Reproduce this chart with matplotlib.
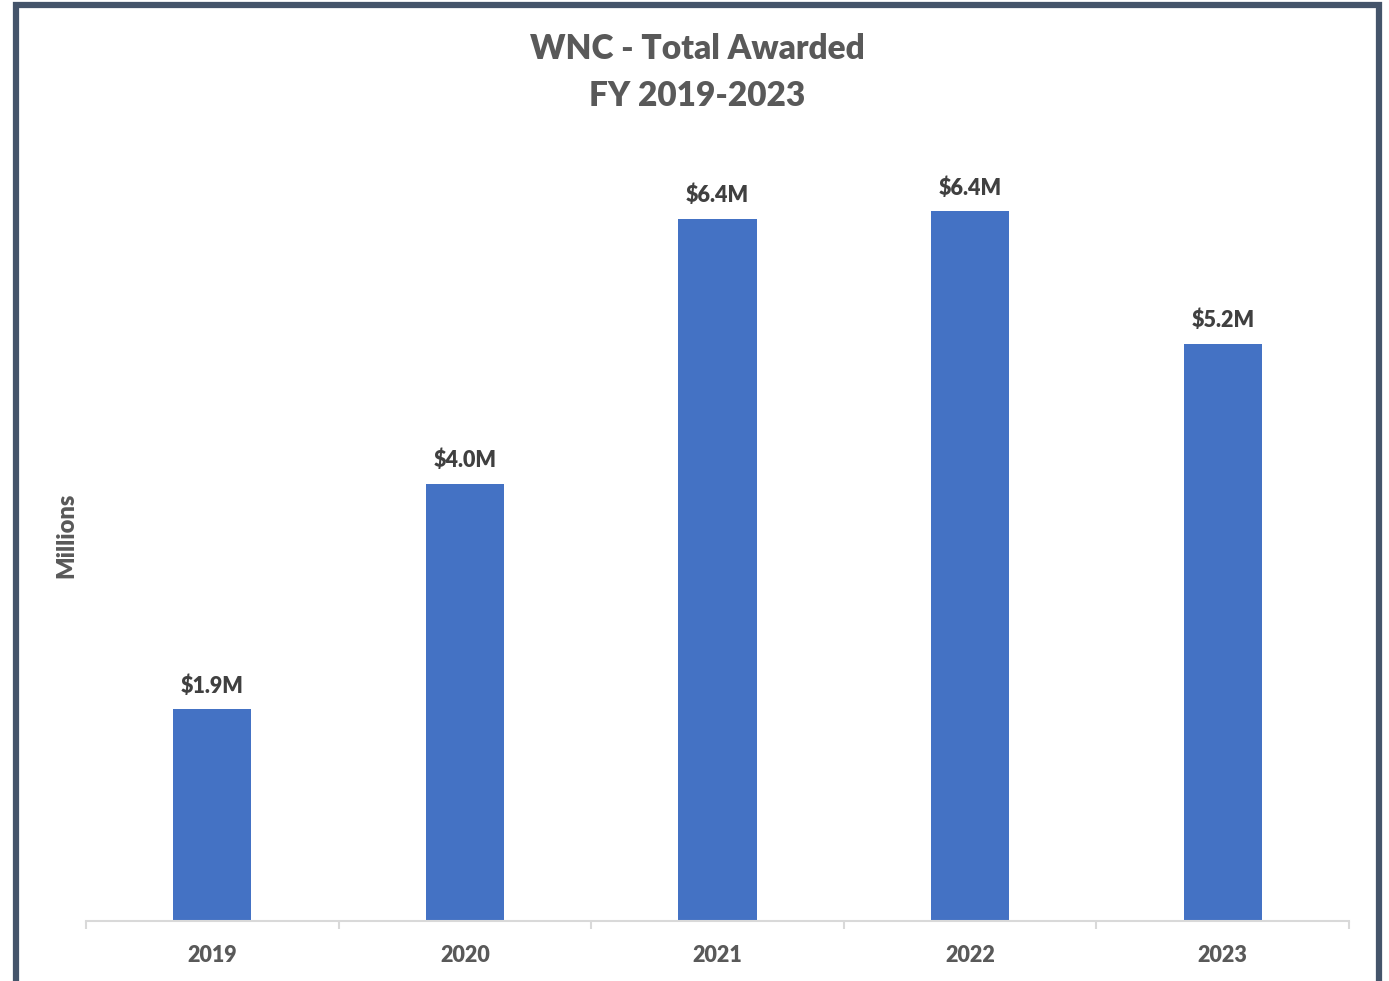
import matplotlib.pyplot as plt
from matplotlib.patches import Rectangle
import numpy as np

years = ["2019", "2020", "2021", "2022", "2023"]
awarded = [1.92, 3.96, 6.36, 6.43, 5.23]  # millions

plt.rcParams["font.family"] = ["Lato", "DejaVu Sans"]
WT = "heavy"
W, H = 1389, 981
fig = plt.figure(figsize=(W / 100, H / 100), dpi=100)

# axes placement in pixels: x 86..1349, baseline y=921
ax_left, ax_right = 86, 1349
ax_bottom, ax_top = 921, 150
ax = fig.add_axes([ax_left / W, 1 - ax_bottom / H,
                   (ax_right - ax_left) / W, (ax_bottom - ax_top) / H])

x = np.arange(len(years))
ax.bar(x, awarded, width=0.31, color="#4472C4", zorder=2)
ax.set_xlim(-0.5, len(years) - 0.5)
ax.set_ylim(0, (ax_bottom - ax_top) / 110.4)

for xi, v in zip(x, awarded):
    ax.annotate(f"${v:.1f}M", (xi, v), xytext=(0, 9), textcoords="offset points",
                ha="center", va="bottom", fontsize=15.5, fontweight=WT, color="#404040")

# category ticks between bars
ax.set_xticks(np.arange(-0.5, len(years)), minor=False)
ax.set_xticklabels([])
ax.tick_params(axis="x", which="major", length=6, width=1.5, color="#D9D9D9")
ax.set_xticks(x, minor=True)
ax.set_xticklabels(years, minor=True)
ax.tick_params(axis="x", which="minor", length=0, pad=17, labelsize=15.5,
               labelcolor="#595959")
for lbl in ax.get_xticklabels(minor=True):
    lbl.set_fontweight(WT)

ax.set_yticks([])
for s in ["top", "right", "left"]:
    ax.spines[s].set_visible(False)
ax.spines["bottom"].set_color("#D9D9D9")
ax.spines["bottom"].set_linewidth(1.5)

fig.text(66 / W, 1 - 535 / H, "Millions", rotation=90, ha="center", va="center",
         fontsize=17, fontweight=WT, color="#595959")
fig.text(697 / W, 1 - 49 / H, "WNC - Total Awarded", ha="center", va="center",
         fontsize=24, fontweight=WT, color="#595959")
fig.text(697 / W, 1 - 96 / H, "FY 2019-2023", ha="center", va="center",
         fontsize=24, fontweight=WT, color="#595959")

# outer frame
fig.patches.append(Rectangle((16 / W, 1 - 985 / H), (1379 - 16) / W, (985 - 5) / H,
                             transform=fig.transFigure, fill=False,
                             edgecolor="#44546A", linewidth=4.5))

fig.savefig("out.png", dpi=100)
